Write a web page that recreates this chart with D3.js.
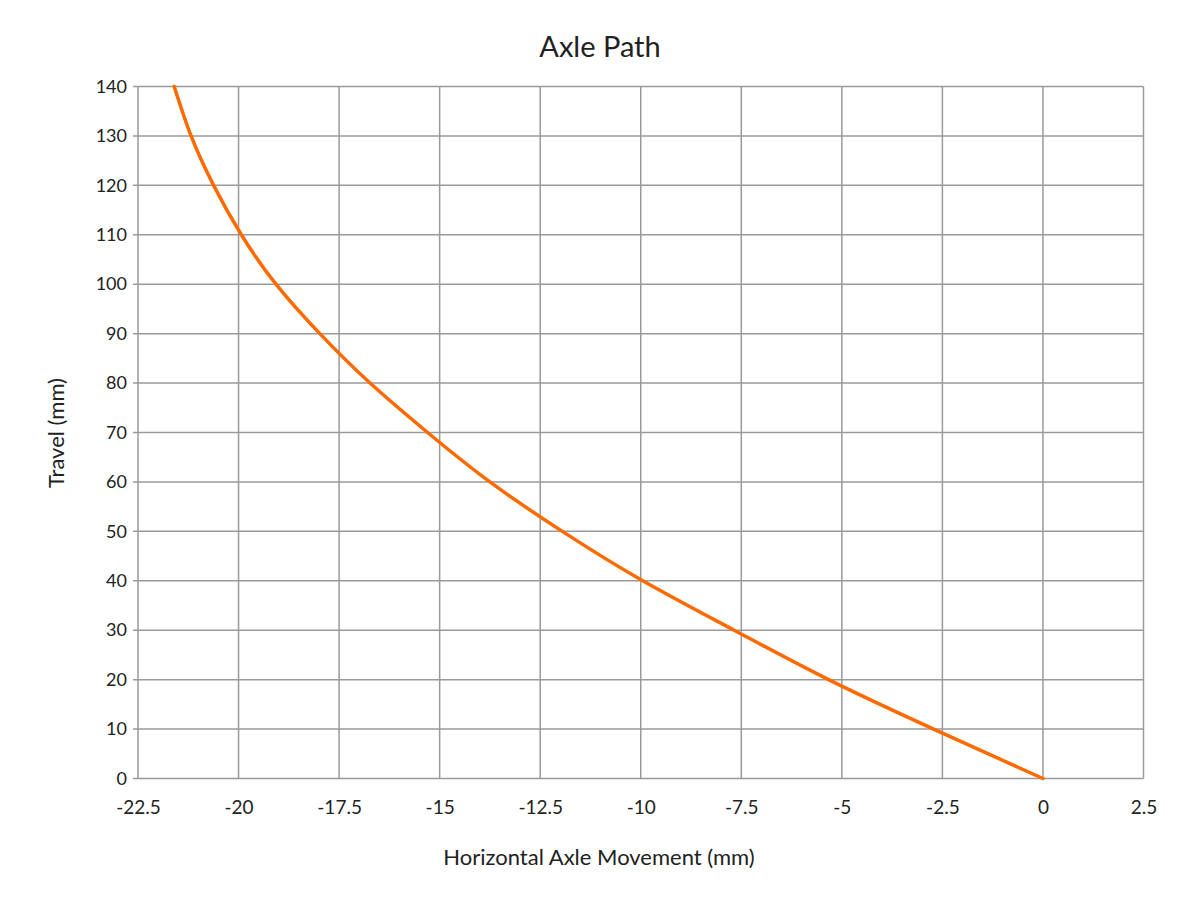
<!DOCTYPE html>
<html>
<head>
<meta charset="utf-8">
<script src="https://cdn.jsdelivr.net/npm/d3@7"></script>
<style>
  html, body { margin: 0; padding: 0; background: #fff; }
  svg { display: block; font-family: "Lato", "Open Sans", sans-serif; }
</style>
</head>
<body>
<svg id="chart" width="1200" height="900"></svg>
<script>
// ---- data ----
const travel = [0, 10, 20, 30, 40, 50, 60, 70, 80, 90, 100, 110, 120, 130, 140];
const horizontal = [0, -2.72, -5.33, -7.68, -9.95, -11.95, -13.75, -15.3, -16.73, -17.98, -19.07, -19.93, -20.62, -21.18, -21.6];
const xTicks = [-22.5, -20, -17.5, -15, -12.5, -10, -7.5, -5, -2.5, 0, 2.5];
const yTicks = [0, 10, 20, 30, 40, 50, 60, 70, 80, 90, 100, 110, 120, 130, 140];
const title = "Axle Path";
const xTitle = "Horizontal Axle Movement (mm)";
const yTitle = "Travel (mm)";

const points = travel.map((t, i) => ({ x: horizontal[i], y: t }));

const svg = d3.select("#chart");
const m = { left: 138, right: 1143.5, top: 86.5, bottom: 778.5 };

const x = d3.scaleLinear().domain([-22.5, 2.5]).range([m.left, m.right]);
const y = d3.scaleLinear().domain([0, 140]).range([m.bottom, m.top]);

const grid = "#9a9a9a";
const textColor = "#222";

// vertical gridlines
svg.append("g")
  .selectAll("line")
  .data(xTicks)
  .join("line")
  .attr("x1", d => x(d)).attr("x2", d => x(d))
  .attr("y1", m.top).attr("y2", m.bottom)
  .attr("stroke", grid).attr("stroke-width", 1.5);

// horizontal gridlines
svg.append("g")
  .selectAll("line")
  .data(yTicks)
  .join("line")
  .attr("x1", m.left - 5).attr("x2", m.right)
  .attr("y1", d => y(d)).attr("y2", d => y(d))
  .attr("stroke", grid).attr("stroke-width", 1.5);

// y axis labels
const yAxis = d3.axisLeft(y).tickValues(yTicks).tickSize(0).tickPadding(11).tickFormat(d3.format("d"));
const gy = svg.append("g").attr("transform", `translate(${m.left},0)`).call(yAxis);
gy.select(".domain").remove();
gy.selectAll("text").attr("font-size", 18).attr("fill", textColor).attr("font-family", "Lato, 'Open Sans', sans-serif");

// x axis labels
const xAxis = d3.axisBottom(x).tickValues(xTicks).tickSize(0).tickPadding(22).tickFormat(d => String(d));
const gx = svg.append("g").attr("transform", `translate(0,${m.bottom})`).call(xAxis);
gx.select(".domain").remove();
gx.selectAll("text").attr("font-size", 19).attr("fill", textColor).attr("font-family", "Lato, 'Open Sans', sans-serif");

// curve
const line = d3.line()
  .x(d => x(d.x))
  .y(d => y(d.y))
  .curve(d3.curveNatural);

svg.append("path")
  .datum(points)
  .attr("d", line)
  .attr("fill", "none")
  .attr("stroke", "#ff6a00")
  .attr("stroke-width", 3.5)
  .attr("stroke-linecap", "round");

// titles
svg.append("text")
  .attr("x", 600).attr("y", 57)
  .attr("text-anchor", "middle")
  .attr("font-size", 29)
  .attr("fill", textColor)
  .text(title);

svg.append("text")
  .attr("x", 599).attr("y", 865)
  .attr("text-anchor", "middle")
  .attr("font-size", 22)
  .attr("fill", textColor)
  .text(xTitle);

svg.append("text")
  .attr("transform", `translate(64,433) rotate(-90)`)
  .attr("text-anchor", "middle")
  .attr("font-size", 22)
  .attr("fill", textColor)
  .text(yTitle);
</script>
</body>
</html>
